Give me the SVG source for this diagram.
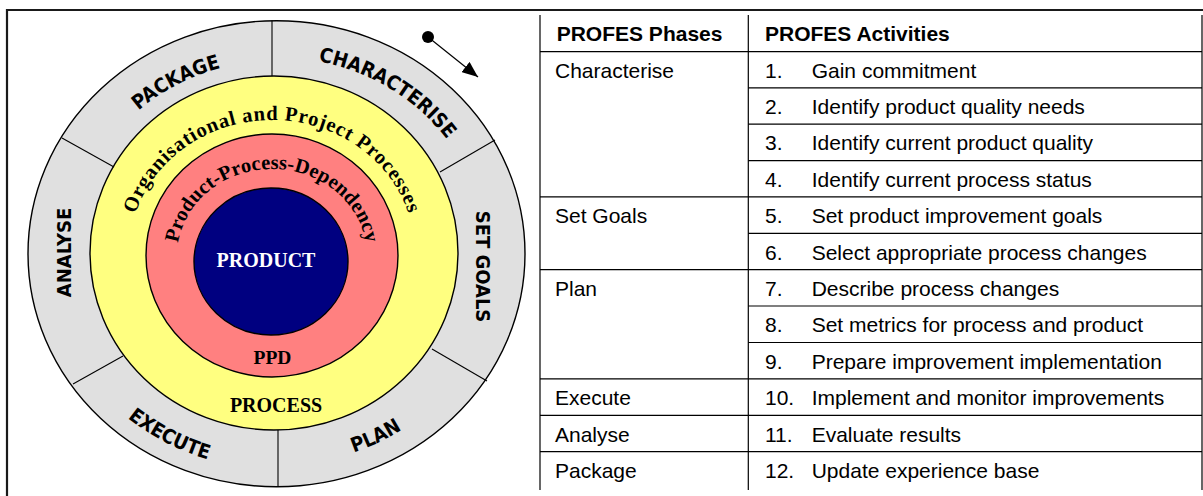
<svg xmlns="http://www.w3.org/2000/svg" width="1203" height="496" viewBox="0 0 1203 496">
<style>
.seg{font-family:"DejaVu Sans Condensed","DejaVu Sans",Verdana,sans-serif;font-stretch:condensed;font-weight:bold;font-size:20px;fill:#000}
.ser{font-family:"Liberation Serif","Times New Roman",serif;font-weight:bold;fill:#000}
.tb{font-family:"Liberation Sans",Arial,sans-serif;font-size:21px;fill:#000}
.th{font-weight:bold}
.ln{stroke:#000;stroke-width:1.2;fill:none}
.ring{stroke:#000;stroke-width:1.4}
</style>
<defs>
<path id="pPackage" d="M70.8 253.7 A205.7 193 0 0 1 379.4 86.6"/>
<path id="pChar" d="M184.7 77.1 A209.5 196.5 0 0 1 485.5 267.4"/>
<path id="pExec" d="M46.8 253.7 A229.7 215.5 0 0 0 391.4 440.3"/>
<path id="pPlan" d="M157 433.1 A225.5 211.5 0 0 0 501.9 261.1"/>
<path id="pOrg" d="M129 253 A143 133 0 0 1 415 253"/>
<path id="pPPD" d="M177 256 A95 87 0 0 1 367 256"/>
<marker id="ah" viewBox="0 0 16 13" refX="16" refY="6.5" markerWidth="16" markerHeight="13" orient="auto" markerUnits="userSpaceOnUse"><path d="M0 0 L16 6.5 L0 13 Z" fill="#000"/></marker>
</defs>

<g id="frame"><path d="M7 496 V10 H1203" fill="none" stroke="#1a1a1a" stroke-width="2.2"/></g>

<g id="cycle">
<ellipse class="ring" cx="276.5" cy="253.7" rx="248.5" ry="233" fill="#e0e0e0"/>
<ellipse class="ring" cx="274" cy="253" rx="184" ry="177" fill="#ffff80"/>
</g>
<g id="dividers" stroke="#000" stroke-width="1.1">
<line x1="272" y1="20.5" x2="272" y2="76"/>
<line x1="495" y1="140" x2="440" y2="172"/>
<line x1="487" y1="381" x2="432" y2="349"/>
<line x1="278" y1="430" x2="278" y2="487"/>
<line x1="73" y1="384" x2="123" y2="356"/>
<line x1="62" y1="138" x2="114" y2="167"/>
</g>
<g id="phase-package"><text class="seg"><textPath href="#pPackage" startOffset="50%" text-anchor="middle">PACKAGE</textPath></text></g>
<g id="phase-characterise"><text class="seg"><textPath href="#pChar" startOffset="50%" text-anchor="middle">CHARACTERISE</textPath></text></g>
<g id="phase-setgoals"><text class="seg" transform="translate(476 266.5) rotate(90)" text-anchor="middle">SET GOALS</text></g>
<g id="phase-plan"><text class="seg"><textPath href="#pPlan" startOffset="50%" text-anchor="middle">PLAN</textPath></text></g>
<g id="phase-execute"><text class="seg"><textPath href="#pExec" startOffset="50%" text-anchor="middle">EXECUTE</textPath></text></g>
<g id="phase-analyse"><text class="seg" transform="translate(70.6 252.5) rotate(-90)" text-anchor="middle">ANALYSE</text></g>

<g id="process-ring">
<text class="ser" font-size="20.5" letter-spacing="0.8"><textPath href="#pOrg" startOffset="50%" text-anchor="middle">Organisational and Project Processes</textPath></text>
<text class="ser" x="276" y="412" font-size="20" text-anchor="middle">PROCESS</text>
</g>
<g id="ppd-ring">
<ellipse class="ring" cx="272" cy="255.5" rx="126" ry="121.5" fill="#ff8080"/>
<text class="ser" font-size="20.5" letter-spacing="0.1"><textPath href="#pPPD" startOffset="50%" text-anchor="middle">Product-Process-Dependency</textPath></text>
<text class="ser" x="272.5" y="364" font-size="19.5" text-anchor="middle">PPD</text>
</g>
<g id="product">
<ellipse class="ring" cx="271" cy="261.5" rx="77" ry="73.5" fill="#000080"/>
<text class="ser" x="266" y="267" font-size="20" text-anchor="middle" style="fill:#fff">PRODUCT</text>
</g>

<g id="connectors">
<circle cx="428" cy="37" r="6" fill="#000"/>
<line x1="428" y1="37" x2="478" y2="77" stroke="#000" stroke-width="1.3" marker-end="url(#ah)"/>
</g>

<g id="table">
<g class="ln">
<line x1="540" y1="15" x2="540" y2="490"/>
<line x1="748.3" y1="15" x2="748.3" y2="490"/>
<line x1="1202" y1="15" x2="1202" y2="490"/>
<line x1="540" y1="51.7" x2="1202" y2="51.7"/>
<line x1="748.3" y1="87.8" x2="1202" y2="87.8"/>
<line x1="748.3" y1="124.2" x2="1202" y2="124.2"/>
<line x1="748.3" y1="160.6" x2="1202" y2="160.6"/>
<line x1="540" y1="196.9" x2="1202" y2="196.9"/>
<line x1="748.3" y1="233.3" x2="1202" y2="233.3"/>
<line x1="540" y1="269.6" x2="1202" y2="269.6"/>
<line x1="748.3" y1="306" x2="1202" y2="306"/>
<line x1="748.3" y1="342.5" x2="1202" y2="342.5"/>
<line x1="540" y1="378.9" x2="1202" y2="378.9"/>
<line x1="540" y1="415.3" x2="1202" y2="415.3"/>
<line x1="540" y1="451.7" x2="1202" y2="451.7"/>
</g>
<g class="tb">
<text class="th" x="556.7" y="40.5">PROFES Phases</text>
<text class="th" x="765" y="40.5">PROFES Activities</text>
<text x="555" y="77.8">Characterise</text>
<text x="555" y="223.1">Set Goals</text>
<text x="555" y="295.8">Plan</text>
<text x="555" y="405.1">Execute</text>
<text x="555" y="441.5">Analyse</text>
<text x="555" y="477.9">Package</text>
<text x="765" y="77.8">1.</text><text x="811.7" y="77.8">Gain commitment</text>
<text x="765" y="114">2.</text><text x="811.7" y="114">Identify product quality needs</text>
<text x="765" y="150.4">3.</text><text x="811.7" y="150.4">Identify current product quality</text>
<text x="765" y="186.8">4.</text><text x="811.7" y="186.8">Identify current process status</text>
<text x="765" y="223.1">5.</text><text x="811.7" y="223.1">Set product improvement goals</text>
<text x="765" y="259.5">6.</text><text x="811.7" y="259.5">Select appropriate process changes</text>
<text x="765" y="295.8">7.</text><text x="811.7" y="295.8">Describe process changes</text>
<text x="765" y="332.3">8.</text><text x="811.7" y="332.3">Set metrics for process and product</text>
<text x="765" y="368.7">9.</text><text x="811.7" y="368.7">Prepare improvement implementation</text>
<text x="765" y="405.1">10.</text><text x="811.7" y="405.1">Implement and monitor improvements</text>
<text x="765" y="441.5">11.</text><text x="811.7" y="441.5">Evaluate results</text>
<text x="765" y="477.9">12.</text><text x="811.7" y="477.9">Update experience base</text>
</g>
</g>
</svg>
